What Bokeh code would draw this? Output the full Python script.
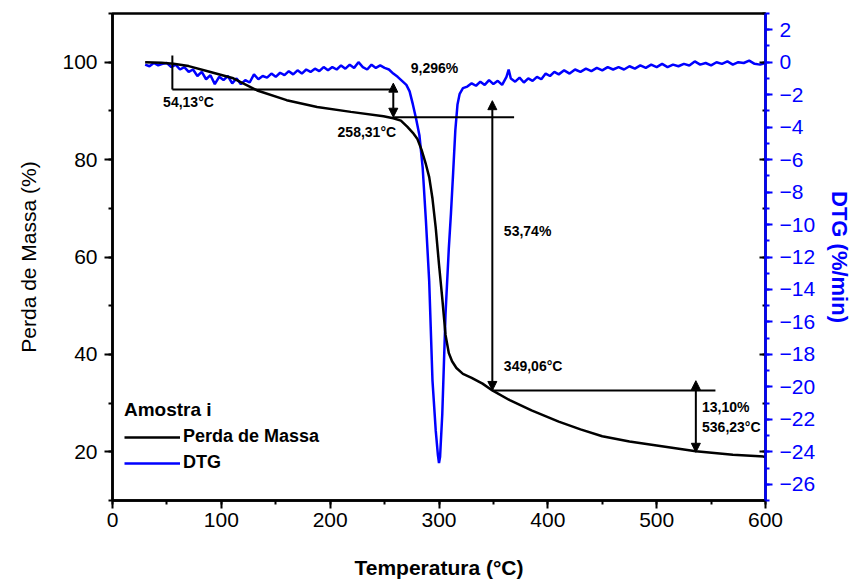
from bokeh.plotting import figure
from bokeh.models import (Range1d, LinearAxis, SingleIntervalTicker, Arrow, NormalHead,
                          ColumnDataSource, Legend, LegendItem, CustomJSTickFormatter)
from bokeh.core.properties import value
from bokeh.embed import file_html
from bokeh.resources import INLINE

# ---------------- data ----------------
tg_temp = [30, 45, 56, 70, 90, 111, 133, 160, 188, 219, 249, 258, 265, 271, 276, 280, 284,
           288, 291, 294, 297, 300, 303, 306, 309, 312, 316, 322, 330, 340, 349, 365, 385,
           410, 430, 450, 475, 500, 536, 570, 600]
tg_mass = [100.0, 99.9, 99.7, 99.2, 98.0, 96.7, 94.2, 92.2, 90.8, 89.8, 88.9, 88.5, 88.0,
           86.7, 85.5, 84.3, 82.0, 79.0, 76.4, 72.0, 66.0, 58.5, 51.5, 44.0, 40.3, 38.6,
           37.2, 36.0, 35.2, 34.0, 32.6, 30.6, 28.5, 26.2, 24.6, 23.2, 22.1, 21.3, 20.1,
           19.4, 19.0]

dtg_temp = [30, 34, 38, 42, 46, 50, 54, 58, 62, 66, 70, 74, 78, 82, 86, 90, 94, 98,
            102, 106, 110, 114, 118, 122, 126, 130, 134, 138, 142, 146, 150, 154, 158,
            162, 166, 170, 174, 178, 182, 186, 190, 194, 198, 202, 206, 210, 214, 218,
            222, 226, 230, 234, 238, 242, 246, 250, 254, 258, 262, 266, 270, 273, 276,
            279, 282, 285, 288, 291, 294, 297, 299, 300, 301, 303, 306, 309, 311, 313,
            315, 317, 319, 322, 326, 330, 334, 338, 342, 346, 350, 354, 358, 362, 364,
            366, 370, 374, 378, 382, 386, 390, 394, 398, 402, 406, 410, 415, 420, 425,
            430, 435, 440, 445, 450, 455, 460, 465, 470, 475, 480, 485, 490, 495, 500,
            505, 510, 515, 520, 525, 530, 535, 540, 545, 550, 555, 560, 565, 570, 575,
            580, 585, 590, 595, 600]
dtg_rate = [-0.15, -0.25, -0.05, -0.2, -0.1, -0.05, -0.3, -0.15, -0.45, -0.3, -0.6, -0.45,
            -0.85, -0.6, -1.05, -0.8, -1.35, -0.9,
            -1.1, -0.85, -1.3, -1.0, -1.35, -1.1, -1.25, -0.75, -1.05, -0.85, -0.95, -0.7,
            -0.9, -0.65, -0.8,
            -0.55, -0.75, -0.5, -0.7, -0.45, -0.6, -0.4, -0.55, -0.3, -0.5, -0.3, -0.45,
            -0.2, -0.4, -0.15,
            -0.35, 0.0, -0.3, -0.45, -0.15, -0.35, -0.2, -0.35, -0.45, -0.7, -0.9, -1.15,
            -1.4, -1.8, -2.6,
            -3.5, -4.5, -6.5, -9.8, -13.5, -19.6, -22.7, -24.2, -24.7, -24.3, -21.7, -15.5,
            -11.5, -9.3, -6.8,
            -4.2, -2.6, -1.95, -1.6, -1.5, -1.3, -1.45, -1.2, -1.4, -1.1, -1.35, -1.15,
            -1.4, -0.9, -0.45,
            -1.0, -1.2, -0.95, -1.25, -1.0, -1.15, -0.9, -1.05, -0.7, -0.85, -0.6, -0.75,
            -0.5, -0.7, -0.45,
            -0.6, -0.4, -0.55, -0.35, -0.5, -0.3, -0.45, -0.3, -0.45, -0.25, -0.4, -0.2,
            -0.35, -0.15, -0.3,
            -0.1, -0.3, -0.15, -0.25, -0.1, -0.2, 0.05, -0.15, -0.05, -0.2, 0.0, -0.1,
            0.05, -0.15, 0.0,
            -0.05, 0.1, -0.1, -0.15, -0.05]

x_ticks_interval = 100
left_ticks_interval = 20
right_ticks_interval = 2

# annotation lines (temperature, mass %)
seg_x0 = [55, 55, 258, 349]
seg_y0 = [101.4, 94.4, 88.7, 32.6]
seg_x1 = [55, 257, 369, 554]
seg_y1 = [94.4, 94.4, 88.7, 32.6]

arr_x = [258, 349, 536]
arr_top = [95.7, 92.1, 34.6]
arr_bot = [88.7, 32.6, 19.9]

lbl_text = ["9,296%", "54,13°C", "258,31°C", "53,74%", "349,06°C", "13,10%", "536,23°C"]
lbl_x = [274, 46.5, 206.8, 359.6, 359.6, 541.7, 541.7]
lbl_y = [98.9, 91.9, 85.6, 65.4, 37.7, 29.3, 25.05]

FONT = "Liberation Sans"
BLUE = "#0000ff"

# ---------------- figure ----------------
p = figure(width=856, height=584, x_range=Range1d(0, 600), y_range=Range1d(10, 110),
           output_backend="svg", toolbar_location=None,
           min_border_left=112, min_border_top=13, min_border_right=91, min_border_bottom=84,
           x_axis_label="Temperatura (°C)", y_axis_label="Perda de Massa (%)")
p.extra_y_ranges = {"dtg": Range1d(-27, 3)}
p.xgrid.visible = False
p.ygrid.visible = False
p.outline_line_color = "black"
p.outline_line_width = 2.5
p.background_fill_color = "white"
p.border_fill_color = "white"


def style_axis(ax, color, tick_out, label_size, label_style):
    ax.axis_line_color = color
    ax.axis_line_width = 2.5
    ax.major_tick_line_color = color
    ax.minor_tick_line_color = color
    ax.major_tick_line_width = 2
    ax.minor_tick_line_width = 2
    ax.major_tick_in = 0
    ax.minor_tick_in = 0
    ax.major_tick_out = tick_out
    ax.minor_tick_out = 4
    ax.major_label_text_font = FONT
    ax.major_label_text_font_size = "21px"
    ax.major_label_text_color = color
    ax.axis_label_text_font = FONT
    ax.axis_label_text_font_size = label_size
    ax.axis_label_text_font_style = label_style
    ax.axis_label_text_color = color


xa = p.xaxis[0]
xa.ticker = SingleIntervalTicker(interval=x_ticks_interval, num_minor_ticks=2)
style_axis(xa, "black", 8, "21px", "bold")
xa.major_label_standoff = 4
xa.axis_label_standoff = 26

ya = p.yaxis[0]
ya.ticker = SingleIntervalTicker(interval=left_ticks_interval, num_minor_ticks=2)
style_axis(ya, "black", 8, "21px", "normal")
ya.major_label_standoff = 7
ya.axis_label_standoff = 19

# inner mirrored ticks on the right (mass scale)
inner = LinearAxis(ticker=SingleIntervalTicker(interval=left_ticks_interval, num_minor_ticks=2),
                   formatter=CustomJSTickFormatter(code="return ''"))
inner.axis_line_color = None
inner.major_tick_in = 6
inner.major_tick_out = 0
inner.minor_tick_in = 3
inner.minor_tick_out = 0
inner.major_tick_line_width = 2
inner.minor_tick_line_width = 2
inner.major_label_standoff = 0
inner.major_label_text_font_size = "1px"
p.add_layout(inner, "right")

ra = LinearAxis(y_range_name="dtg",
                ticker=SingleIntervalTicker(interval=right_ticks_interval, num_minor_ticks=2),
                axis_label="DTG (%/min)")
style_axis(ra, BLUE, 7, "22px", "bold")
ra.major_label_standoff = 7
ra.axis_label_standoff = 9
p.add_layout(ra, "right")

# ---------------- curves ----------------
dtg = p.line(dtg_temp, dtg_rate, line_color=BLUE, line_width=2.5, y_range_name="dtg")
tg = p.line(tg_temp, tg_mass, line_color="black", line_width=2.5)

# ---------------- annotations ----------------
p.segment(x0=seg_x0, y0=seg_y0, x1=seg_x1, y1=seg_y1, line_color="black", line_width=2)

arr_src = ColumnDataSource(dict(x=arr_x, top=arr_top, bot=arr_bot))
p.add_layout(Arrow(source=arr_src, x_start="x", y_start="top", x_end="x", y_end="bot",
                   line_color="black", line_width=2,
                   start=NormalHead(size=9, fill_color="black", line_color="black"),
                   end=NormalHead(size=9, fill_color="black", line_color="black")))

p.text(x=lbl_x, y=lbl_y, text=lbl_text, text_align="left", text_baseline="middle",
       text_font=value(FONT), text_font_style="bold", text_font_size="14px",
       text_color="black")

legend = Legend(items=[LegendItem(label="Perda de Massa", renderers=[tg]),
                       LegendItem(label="DTG", renderers=[dtg])],
                title="Amostra i", location=(12, 27))
legend.title_text_font = FONT
legend.title_text_font_style = "bold"
legend.title_text_font_size = "19px"
legend.title_text_color = "black"
legend.title_standoff = 5
legend.label_text_font = FONT
legend.label_text_font_style = "bold"
legend.label_text_font_size = "18px"
legend.label_text_color = "black"
legend.label_standoff = 3
legend.label_height = 20
legend.glyph_height = 20
legend.glyph_width = 56
legend.spacing = 5
legend.padding = 0
legend.margin = 0
legend.border_line_color = None
legend.background_fill_alpha = 0
p.add_layout(legend)

open("out.html", "w").write(file_html(p, INLINE))
